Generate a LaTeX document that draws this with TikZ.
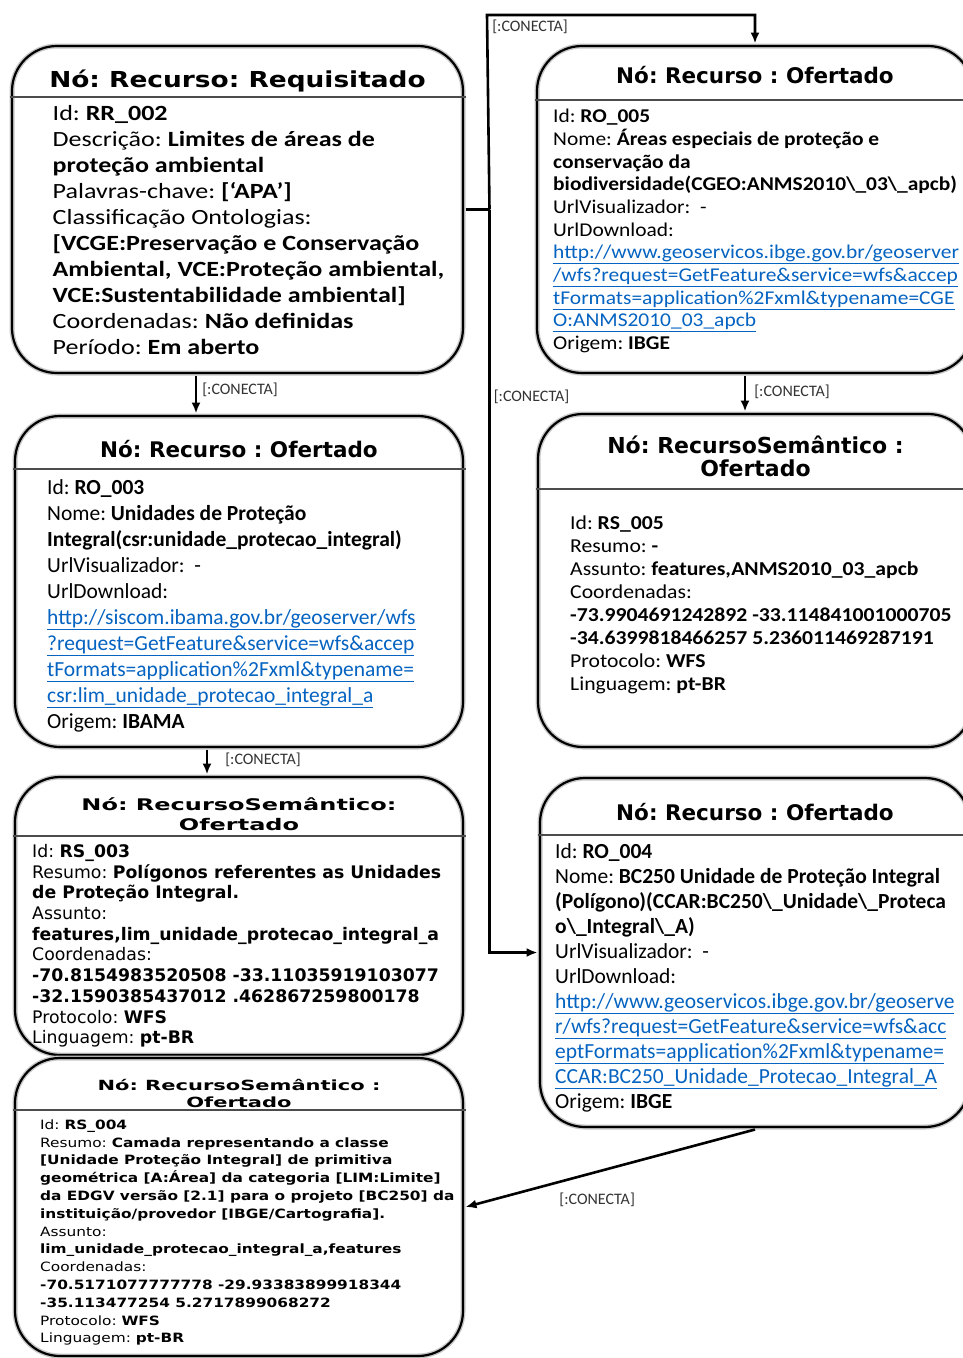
\documentclass[tikz,border=0pt]{standalone}
\usepackage{fontspec}
\usetikzlibrary{arrows.meta}

\newfontfamily\calibri{Carlito}
\newfontfamily\calibriwide{Carlito}[FakeStretch=1.1]
\newfontfamily\calibriwider{Carlito}[FakeStretch=1.2]
\newfontfamily\verdana{DejaVu Sans}
\newfontfamily\verdanawide{DejaVu Sans}[FakeStretch=1.2]
\newfontfamily\verdanawider{DejaVu Sans}[FakeStretch=1.5]
\frenchspacing

\definecolor{linkblue}{HTML}{0563C1}
\newcommand\valor[1]{\textbf{#1}}
\newcommand\hlink[1]{\textcolor{linkblue}{\underline{#1}}}

\tikzset{
  box/.style={draw=black!22, line width=5pt, rounded corners=45pt,
    preaction={fill=white}, postaction={draw=black, line width=2.2pt}},
  divider/.style={black!70, line width=1.2pt},
  title/.style={inner sep=0pt, font=\verdana\bfseries\fontsize{21.5}{23}\selectfont},
  body/.style={inner sep=0pt, anchor=north west, align=left},
  conecta/.style={->, line width=2.6pt},
  relname/.style={inner sep=0pt, text=black!80, font=\calibri\fontsize{16}{18}\selectfont}
}

\begin{document}
\begin{tikzpicture}[x=1pt, y=-1pt, >={Latex[length=11pt,width=9pt]}]

\path [fill=white, use as bounding box] (0,0) rectangle (963,1358);

% The seven boxes: name/left/top/right/bottom
\foreach \name/\l/\t/\r/\b in {
  rr/12/46/463/373,
  ro5/537/46/973/373,
  ro3/15/416/463/747,
  rs5/538/414/973/747,
  rs3/15/777/463/1055,
  ro4/540/778/970/1127,
  rs4/15/1058/463/1356} {
  \node [box, minimum width={\r-\l}, minimum height={\b-\t}] (\name)
    at ({(\l+\r)/2}, {(\t+\b)/2}) {};
}

% Lines under the titles
\foreach \b/\y in {rr/97, ro5/100, ro3/469, rs5/489, rs3/836, ro4/835, rs4/1110} {
  \draw [divider] (\b.west |- 0,\y) -- (\b.east |- 0,\y);
}

% Titles
\node [title, anchor=base, font=\verdanawide\bfseries\fontsize{22}{24}\selectfont]
  (rrtitle) at (rr.north |- 0,87) {Nó: Recurso: Requisitado};
\node [title, anchor=base] (ro5title) at (ro5.north |- 0,83) {Nó: Recurso : Ofertado};
\node [title, anchor=base] (ro3title) at (ro3.north |- 0,457.7) {Nó: Recurso : Ofertado};
\node [title, anchor=base] (ro4title) at (ro4.north |- 0,820) {Nó: Recurso : Ofertado};
\node [title, anchor=north, align=center, font=\verdana\bfseries\fontsize{22}{23}\selectfont]
  (rs5title) at (rs5.north |- 0,435.7) {Nó: RecursoSemântico :\\Ofertado};
\node [title, anchor=north, align=center, font=\verdanawider\bfseries\fontsize{16}{20}\selectfont]
  (rs3title) at (rs3.north |- 0,797.2) {Nó: RecursoSemântico:\\Ofertado};
\node [title, anchor=north, align=center, font=\verdanawider\bfseries\fontsize{14}{17.7}\selectfont]
  (rs4title) at (rs4.north |- 0,1078.8) {Nó: RecursoSemântico :\\Ofertado};

% Contents of the boxes
\node [body, font=\calibriwider\fontsize{21.7}{26}\selectfont] (rrbody) at (52.5,104.8) {
  Id: \valor{RR\_002}\\
  Descrição: \valor{Limites de áreas de}\\
  \valor{proteção ambiental}\\
  Palavras-chave: \valor{[‘APA’]}\\
  Classificação Ontologias:\\
  \valor{[VCGE:Preservação e Conservação}\\
  \valor{Ambiental, VCE:Proteção ambiental,}\\
  \valor{VCE:Sustentabilidade ambiental]}\\
  Coordenadas: \valor{Não definidas}\\
  Período: \valor{Em aberto}};

\node [body, font=\calibriwide\fontsize{19.5}{22.7}\selectfont] (ro5body) at (553,108.9) {
  Id: \valor{RO\_005}\\
  Nome: \valor{Áreas especiais de proteção e}\\
  \valor{conservação da}\\
  \valor{biodiversidade(CGEO:ANMS2010\textbackslash\_03\textbackslash\_apcb)}\\
  UrlVisualizador:~ -\\
  UrlDownload:\\
  \hlink{http://www.geoservicos.ibge.gov.br/geoserver}\\
  \hlink{/wfs?request=GetFeature\&service=wfs\&accep}\\
  \hlink{tFormats=application\%2Fxml\&typename=CGE}\\
  \hlink{O:ANMS2010\_03\_apcb}\\
  Origem: \valor{IBGE}};

\node [body, font=\calibri\fontsize{21.5}{26}\selectfont] (ro3body) at (47,479) {
  Id: \valor{RO\_003}\\
  Nome: \valor{Unidades de Proteção}\\
  \valor{Integral(csr:unidade\_protecao\_integral)}\\
  UrlVisualizador:~ -\\
  UrlDownload:\\
  \hlink{http://siscom.ibama.gov.br/geoserver/wfs}\\
  \hlink{?request=GetFeature\&service=wfs\&accep}\\
  \hlink{tFormats=application\%2Fxml\&typename=}\\
  \hlink{csr:lim\_unidade\_protecao\_integral\_a}\\
  Origem: \valor{IBAMA}};

\node [body, font=\calibriwide\fontsize{19.7}{23}\selectfont] (rs5body) at (570,515.5) {
  Id: \valor{RS\_005}\\
  Resumo: \valor{-}\\
  Assunto: \valor{features,ANMS2010\_03\_apcb}\\
  Coordenadas:\\
  \valor{-73.9904691242892 -33.114841001000705}\\
  \valor{-34.6399818466257 5.236011469287191}\\
  Protocolo: \valor{WFS}\\
  Linguagem: \valor{pt-BR}};

\node [body, font=\verdana\fontsize{17.3}{20.7}\selectfont] (rs3body) at (32,844.1) {
  Id: \valor{RS\_003}\\
  Resumo: \valor{Polígonos referentes as Unidades}\\
  \valor{de Proteção Integral.}\\
  Assunto:\\
  \valor{features,lim\_unidade\_protecao\_integral\_a}\\
  Coordenadas:\\
  \valor{-70.8154983520508 -33.11035919103077}\\
  \valor{-32.1590385437012 .462867259800178}\\
  Protocolo: \valor{WFS}\\
  Linguagem: \valor{pt-BR}};

\node [body, font=\calibri\fontsize{21.5}{25}\selectfont] (ro4body) at (555,843.3) {
  Id: \valor{RO\_004}\\
  Nome: \valor{BC250 Unidade de Proteção Integral}\\
  \valor{(Polígono)(CCAR:BC250\textbackslash\_Unidade\textbackslash\_Proteca}\\
  \valor{o\textbackslash\_Integral\textbackslash\_A)}\\
  UrlVisualizador:~ -\\
  UrlDownload:\\
  \hlink{http://www.geoservicos.ibge.gov.br/geoserve}\\
  \hlink{r/wfs?request=GetFeature\&service=wfs\&acc}\\
  \hlink{eptFormats=application\%2Fxml\&typename=}\\
  \hlink{CCAR:BC250\_Unidade\_Protecao\_Integral\_A}\\
  Origem: \valor{IBGE}};

\node [body, font=\verdanawide\fontsize{12.8}{17.8}\selectfont] (rs4body) at (40,1119.3) {
  Id: \valor{RS\_004}\\
  Resumo: \valor{Camada representando a classe}\\
  \valor{[Unidade Proteção Integral] de primitiva}\\
  \valor{geométrica [A:Área] da categoria [LIM:Limite]}\\
  \valor{da EDGV versão [2.1] para o projeto [BC250] da}\\
  \valor{instituição/provedor [IBGE/Cartografia].}\\
  Assunto:\\
  \valor{lim\_unidade\_protecao\_integral\_a,features}\\
  Coordenadas:\\
  \valor{-70.5171077777778 -29.93383899918344}\\
  \valor{-35.113477254 5.2717899068272}\\
  Protocolo: \valor{WFS}\\
  Linguagem: \valor{pt-BR}};

% Connections
\draw [conecta] ([xshift=-41.5pt]rr.south) -- ([xshift=-43pt]ro3.north)
  node [relname, pos=0.37, anchor=west, xshift=5pt] {[:CONECTA]};
\draw [conecta] ([xshift=-32pt]ro3.south) -- ([xshift=-32pt]rs3.north)
  node [relname, pos=0.4, anchor=west, xshift=17pt] {[:CONECTA]};
\draw [conecta] ([xshift=-10pt]ro5.south) -- ([xshift=-10.5pt]rs5.north)
  node [relname, pos=0.44, anchor=west, xshift=8pt] {[:CONECTA]};
\draw [conecta] (ro4.south) -- (rs4.east)
  node [relname, pos=0.68, anchor=north west, yshift=-9pt] {[:CONECTA]};

% The branching line from the requested resource
\draw [line width=2.6pt] (rr.east) -- ++(24,0) coordinate (split);
\coordinate (topbend) at (487,15);
\draw [conecta] (split) -- (topbend)
  node [relname, anchor=north west, xshift=4pt, yshift=-4pt] {[:CONECTA]} -| (ro5.north);
\draw [conecta] (split) |- (ro4.west)
  node [relname, pos=0.126, anchor=west, xshift=3pt] {[:CONECTA]};

\end{tikzpicture}
\end{document}
